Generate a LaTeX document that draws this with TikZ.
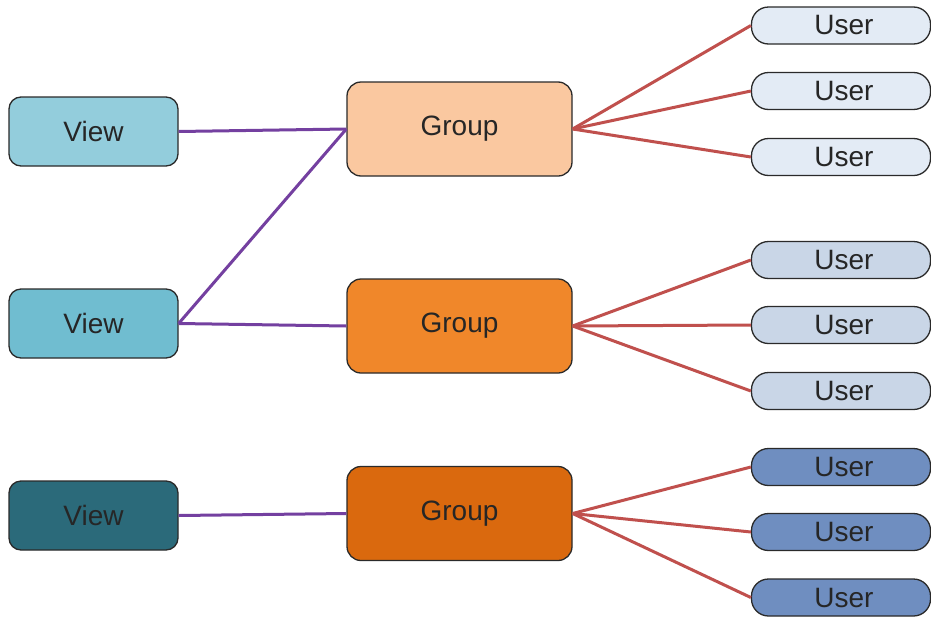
\documentclass[tikz,border=0pt]{standalone}
\usepackage{fontspec}
\setmainfont{Liberation Sans}
\definecolor{viewA}{HTML}{93CDDC}
\definecolor{viewB}{HTML}{70BDD0}
\definecolor{viewC}{HTML}{2B6A7A}
\definecolor{grpA}{HTML}{FAC8A0}
\definecolor{grpB}{HTML}{F0872A}
\definecolor{grpC}{HTML}{DA690E}
\definecolor{usrA}{HTML}{E3EBF5}
\definecolor{usrB}{HTML}{C9D6E7}
\definecolor{usrC}{HTML}{6F8EC0}
\definecolor{purp}{HTML}{7440A0}
\definecolor{redl}{HTML}{C0504D}
\definecolor{edge}{HTML}{2A2A2A}
\begin{document}
\begin{tikzpicture}[x=1pt,y=-1pt,
  viewbox/.style={draw=edge,line width=1.3pt,rounded corners=12pt,minimum width=169pt,minimum height=69pt,inner sep=0pt,font=\fontsize{28}{32}\selectfont,text=black!85},
  grpbox/.style={draw=edge,line width=1.3pt,rounded corners=14pt,minimum width=225pt,minimum height=94pt,inner sep=0pt,font=\fontsize{28}{32}\selectfont,text=black!85},
  usrbox/.style={draw=edge,line width=1.3pt,rounded corners=17pt,minimum width=179pt,minimum height=37pt,inner sep=0pt,font=\fontsize{28}{30}\selectfont,text=black!85},
  vline/.style={draw=purp,line width=3pt},
  uline/.style={draw=redl,line width=3pt}]
\useasboundingbox[fill=white] (0,0) rectangle (931,616);
\node[viewbox,fill=viewA] (v1) at (93.5,131.5) {View};
\node[viewbox,fill=viewB] (v2) at (93.5,323.5) {View};
\node[viewbox,fill=viewC] (v3) at (93.5,515.5) {View};
\node[grpbox,fill=grpA] (g1) at (459.5,129) {Group};
\node[grpbox,fill=grpB] (g2) at (459.5,326) {Group};
\node[grpbox,fill=grpC] (g3) at (459.5,513.5) {Group};
\node[usrbox,fill=usrA] (u1) at (841,25.5) {\hspace*{6pt}User};
\node[usrbox,fill=usrA] (u2) at (841,91) {\hspace*{6pt}User};
\node[usrbox,fill=usrA] (u3) at (841,157) {\hspace*{6pt}User};
\node[usrbox,fill=usrB] (u4) at (841,260) {\hspace*{6pt}User};
\node[usrbox,fill=usrB] (u5) at (841,325) {\hspace*{6pt}User};
\node[usrbox,fill=usrB] (u6) at (841,391) {\hspace*{6pt}User};
\node[usrbox,fill=usrC] (u7) at (841,467) {\hspace*{6pt}User};
\node[usrbox,fill=usrC] (u8) at (841,532) {\hspace*{6pt}User};
\node[usrbox,fill=usrC] (u9) at (841,597.5) {\hspace*{6pt}User};
\draw[vline] (v1.east) -- (g1.west);
\draw[vline] (v2.east) -- (g1.west);
\draw[vline] (v2.east) -- (g2.west);
\draw[vline] (v3.east) -- (g3.west);
\foreach \u in {u1,u2,u3} \draw[uline] (g1.east) -- (\u.west);
\foreach \u in {u4,u5,u6} \draw[uline] (g2.east) -- (\u.west);
\foreach \u in {u7,u8,u9} \draw[uline] (g3.east) -- (\u.west);
\end{tikzpicture}
\end{document}
